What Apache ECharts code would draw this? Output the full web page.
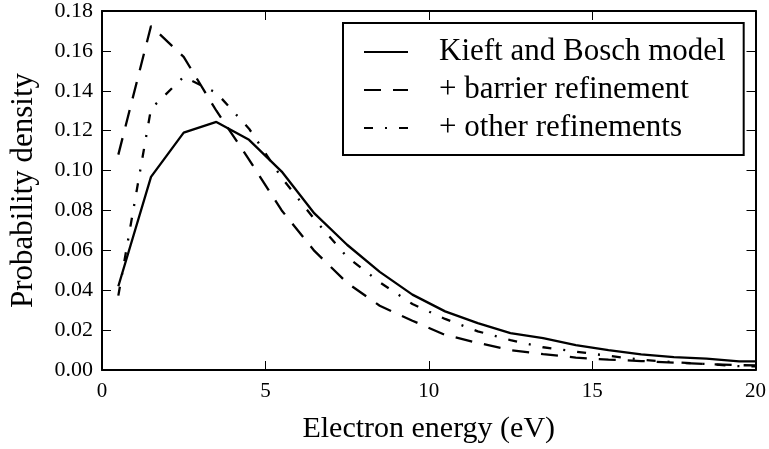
<!DOCTYPE html>
<html>
<head>
<meta charset="utf-8">
<script src="https://cdn.jsdelivr.net/npm/echarts@6/dist/echarts.min.js"></script>
<style>html,body{margin:0;padding:0;background:#fff;}#c{width:769px;height:449px;}</style>
</head>
<body>
<div id="c"></div>
<script>
var energy = [0.5, 1.5, 2.5, 3.5, 4.5, 5.5, 6.5, 7.5, 8.5, 9.5, 10.5, 11.5, 12.5, 13.5, 14.5, 15.5, 16.5, 17.5, 18.5, 19.5, 20.5];
var kieft = [0.042, 0.0968, 0.119, 0.1244, 0.1154, 0.0995, 0.0785, 0.0628, 0.0492, 0.0378, 0.0294, 0.0235, 0.0185, 0.0160, 0.0125, 0.0100, 0.0078, 0.0065, 0.0057, 0.0043, 0.0043];
var barrier = [0.108, 0.1725, 0.157, 0.130, 0.1055, 0.080, 0.0597, 0.0437, 0.0322, 0.0247, 0.0176, 0.0136, 0.0100, 0.0080, 0.0062, 0.0052, 0.0045, 0.0037, 0.0030, 0.0024, 0.0022];
var other = [0.0373, 0.131, 0.147, 0.139, 0.121, 0.0964, 0.0756, 0.0567, 0.044, 0.0331, 0.0256, 0.0194, 0.0150, 0.0114, 0.0092, 0.0071, 0.0052, 0.0039, 0.0030, 0.0019, 0.0017];
var seriesNames = ['Kieft and Bosch model', '+ barrier refinement', '+ other refinements'];
var xTicks = [0, 5, 10, 15, 20];
var yTicks = [0.00, 0.02, 0.04, 0.06, 0.08, 0.10, 0.12, 0.14, 0.16, 0.18];

function pairs(ys) { return energy.map(function (x, i) { return [x, ys[i]]; }); }
var FONT = 'Liberation Serif';
var chart = echarts.init(document.getElementById('c'), null, {renderer: 'canvas'});
var axisLine = {show: true, onZero: false, lineStyle: {color: '#000', width: 2}};
var tick = {show: true, inside: true, length: 9, lineStyle: {color: '#000', width: 1}};
chart.setOption({
  animation: false,
  backgroundColor: '#fff',
  grid: {left: 97, right: 11, top: 9, bottom: 77, containLabel: false},
  xAxis: [{
    type: 'value', min: xTicks[0], max: xTicks[xTicks.length - 1], interval: 5,
    position: 'bottom', axisLine: axisLine, axisTick: tick, splitLine: {show: false},
    axisLabel: {color: '#000', fontFamily: FONT, fontSize: 21, margin: 11},
    name: 'Electron energy (eV)', nameLocation: 'middle', nameGap: 44,
    nameTextStyle: {color: '#000', fontFamily: FONT, fontSize: 30}
  }, {
    type: 'value', min: xTicks[0], max: xTicks[xTicks.length - 1], interval: 5,
    position: 'top', axisLine: axisLine, axisTick: tick, splitLine: {show: false},
    axisLabel: {show: false}
  }],
  yAxis: [{
    type: 'value', min: yTicks[0], max: yTicks[yTicks.length - 1], interval: 0.02,
    position: 'left', axisLine: axisLine, axisTick: tick, splitLine: {show: false},
    axisLabel: {color: '#000', fontFamily: FONT, fontSize: 22, margin: 9,
      formatter: function (v) { return v.toFixed(2); }},
    name: 'Probability density', nameLocation: 'middle', nameGap: 63,
    nameTextStyle: {color: '#000', fontFamily: FONT, fontSize: 31}
  }, {
    type: 'value', min: yTicks[0], max: yTicks[yTicks.length - 1], interval: 0.02,
    position: 'right', axisLine: axisLine, axisTick: tick, splitLine: {show: false},
    axisLabel: {show: false}
  }],
  legend: {
    orient: 'vertical', left: 343, top: 23,
    padding: [10, 18, 8, 20],
    itemWidth: 44, itemHeight: 14, itemGap: 0,
    itemStyle: {color: 'rgba(0,0,0,0)', borderWidth: 0, opacity: 0},
    borderColor: '#000', borderWidth: 2, backgroundColor: '#fff',
    textStyle: {color: '#000', fontFamily: FONT, fontSize: 31, lineHeight: 38, padding: [0, 0, 0, 26]},
    data: seriesNames
  },
  series: [{
    name: seriesNames[0], type: 'line', data: pairs(kieft), symbol: 'none', clip: true,
    lineStyle: {color: '#000', width: 2.3, type: 'solid'}, itemStyle: {color: '#000'}
  }, {
    name: seriesNames[1], type: 'line', data: pairs(barrier), symbol: 'none', clip: true,
    lineStyle: {color: '#000', width: 2.3, type: [17, 12]}, itemStyle: {color: '#000'}
  }, {
    name: seriesNames[2], type: 'line', data: pairs(other), symbol: 'none', clip: true,
    lineStyle: {color: '#000', width: 2.3, type: [9, 12, 2, 12]}, itemStyle: {color: '#000'}
  }]
});
</script>
</body>
</html>
